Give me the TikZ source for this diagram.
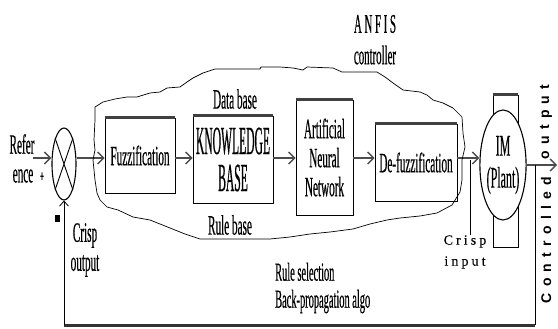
\documentclass[tikz,border=0pt]{standalone}
\usepackage{fontspec}
\setmainfont{Liberation Serif}[FakeStretch=0.4,FakeBold=0.4]
\newfontfamily\kbfont{Liberation Serif}[FakeStretch=0.29,FakeBold=0.4]
\newfontfamily\widefont{Liberation Serif}[LetterSpace=22,FakeBold=0.3]
\newfontfamily\spacedfont{Liberation Sans}[LetterSpace=45]
\newfontfamily\titlefont{Liberation Serif}[FakeStretch=0.4,LetterSpace=10,FakeBold=0.3]
\usetikzlibrary{arrows.meta,shapes.geometric}

\begin{document}
\begin{tikzpicture}[x=1pt,y=-1pt,
    font=\fontsize{28}{29}\selectfont,
    block/.style={draw,line width=0.9pt,inner sep=0pt,align=center,
      font=\fontsize{28}{29}\selectfont},
    flow/.style={line width=2.4pt,black!70,
      -{Straight Barb[length=6pt,width=12pt,line width=1.4pt]}},
    thinline/.style={line width=0.8pt},
    lbl/.style={inner sep=0pt,align=center}]

  \useasboundingbox (0,0) rectangle (558,329);

  % summing point and the four stages of the controller
  \node[ellipse,draw,line width=1.1pt,minimum width=24pt,minimum height=72pt,
        inner sep=0pt] (sum) at (64,164) {};
  \draw[line width=0.9pt] (sum.north west) -- (sum.south east)
                          (sum.north east) -- (sum.south west);

  \node[block,minimum width=70pt,minimum height=75pt] (fuzz) at (140,155.5)
       {Fuzzification};
  \node[block,minimum width=80pt,minimum height=87pt,
        font=\kbfont\fontsize{40}{37}\selectfont] (kb) at (233,159.5) {KNOWLEDGE\\BASE};
  \node[block,minimum width=57pt,minimum height=115pt] (ann) at (324.5,157.5)
       {Artificial\\Neural\\Network};
  \node[block,minimum width=82pt,minimum height=77pt] (defuzz) at (416,162.5)
       {De-fuzzification};

  \foreach \b in {fuzz,kb,ann,defuzz}
    \draw[line width=2.6pt,black!75] (\b.north west) -- (\b.north east);

  % the machine
  \node[draw,line width=0.9pt,minimum width=25pt,minimum height=152pt,
        inner sep=0pt] (frame) at (505.5,171) {};
  \draw[line width=2.6pt,black!75] (frame.north west) -- (frame.north east);
  \node[ellipse,draw,fill=white,line width=1.1pt,minimum width=40pt,
        minimum height=110pt,inner sep=0pt,align=center,
        font=\fontsize{30}{32}\selectfont] (plant) at (503,165) {IM\\(Plant)};

  % forward path
  \coordinate (refin) at (33,158);
  \coordinate (outend) at (557,165);
  \draw[flow] (refin) -- (refin -| sum.west);
  \draw[flow] (refin -| sum.east) -- (fuzz.west |- refin);
  \draw[flow] (fuzz.east |- refin) -- (kb.west |- refin);
  \draw[flow] (kb.east |- refin) -- (ann.west |- refin);
  \draw[flow] (ann.east |- refin) -- (defuzz.west |- refin);
  \draw[flow] (defuzz.east |- refin) -- (plant.west |- refin);
  \draw[flow] (plant.east) -- (outend);

  % feedback path
  \coordinate (tap) at (535,165);
  \coordinate (fbr) at (535,325);
  \coordinate (fbl) at (64,325);
  \draw[thinline] (tap) -- (fbr);
  \draw[line width=3pt,black!80] (fbr) -- (fbl);
  \draw[thinline,-{Straight Barb[length=5pt,width=9pt]}] (fbl) -- (sum.south);

  % outline round the ANFIS part
  \draw[line width=0.7pt] plot coordinates {
      (93,160) (95,150) (94,140) (95,120) (95,107) (103,102) (115,99)
      (127,97) (137,97) (150,93) (160,92) (167,88) (180,87) (187,82)
      (193,78) (203,73) (215,69) (260,69) (261,67) (280,67) (293,68)
      (303,70) (307,67) (333,68) (342,72) (377,72) (385,77) (393,83)
      (403,90) (420,92) (427,95) (433,100) (443,103) (453,108) (462,117)
      (463,133) (465,147) (462,160) (462,180) (460,192) (452,205)
      (437,213) (420,216) (400,218) (387,220) (370,224) (353,229)
      (330,232) (310,234) (290,237) (270,239) (200,239) (185,234)
      (170,228) (150,220) (133,217) (118,210) (107,207) (100,200)
      (97,193) (95,180)} -- cycle;

  % labels
  \node[lbl] (ref1) at (22,144) {Refer};
  \node[lbl] (ref2) at (23,176) {ence};
  \node[lbl,font=\bfseries\fontsize{16}{16}\selectfont] (plus) at (42,177) {+};
  \node[fill=black,minimum width=5pt,minimum height=7pt,inner sep=0pt]
       (minus) at (57,219) {};
  \node[lbl] (db) at (235,99) {Data base};
  \node[lbl] (rb) at (230,225) {Rule base};
  \node[lbl,font=\titlefont\fontsize{27}{27}\selectfont] (anfis) at (375,24) {ANFIS};
  \node[lbl,font=\fontsize{27}{27}\selectfont] (ctrl) at (375,55) {controller};
  \node[lbl] (crispout) at (85,250) {Crisp\\output};
  \node[lbl,font=\widefont\fontsize{14}{21}\selectfont] (crispin) at (465,252)
       {Crisp\\input};
  \coordinate (cin) at (470,160);
  \draw[thinline] (cin |- crispin.north) -- (cin);
  \node[lbl,align=left,anchor=west,font=\fontsize{26}{27}\selectfont] (rulesel)
       at (275,288) {Rule selection\\Back-propagation algo};
  \node[lbl,rotate=90,font=\spacedfont\bfseries\fontsize{14}{14}\selectfont]
       (ctrlout1) at (546,122) {output};
  \node[lbl,rotate=90,font=\spacedfont\bfseries\fontsize{14}{14}\selectfont]
       (ctrlout2) at (546,240) {Controlled};
\end{tikzpicture}
\end{document}
